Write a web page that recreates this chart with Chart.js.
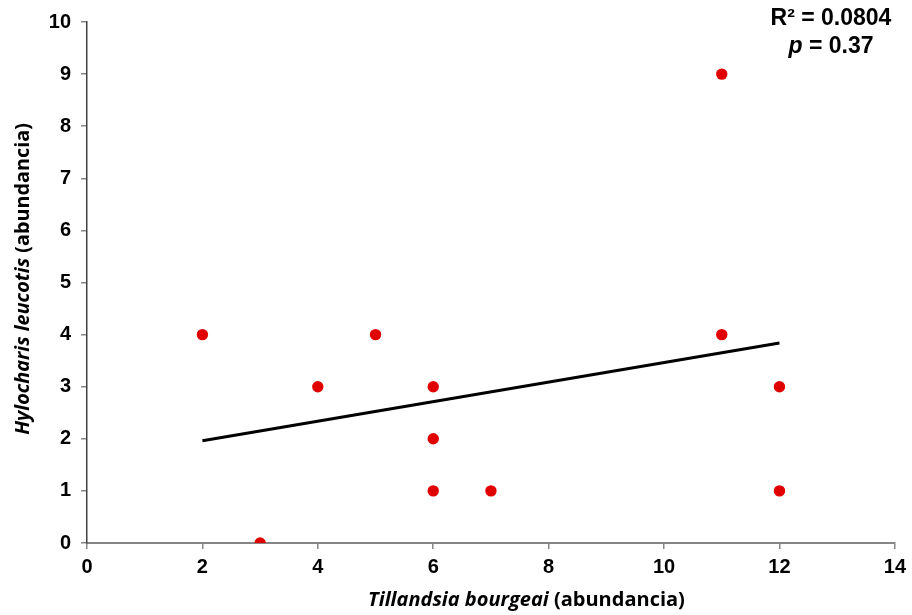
<!DOCTYPE html>
<html>
<head>
<meta charset="utf-8">
<script src="https://cdn.jsdelivr.net/npm/chart.js@4/dist/chart.umd.min.js"></script>
<style>
  html, body { margin: 0; padding: 0; background: #fff; }
  #wrap { width: 912px; height: 615px; position: relative; }
</style>
</head>
<body>
<div id="wrap"><canvas id="c" width="912" height="615"></canvas></div>
<script>
// Abundance counts per site
const tillandsia = [2, 3, 4, 5, 6, 6, 6, 7, 11, 11, 12, 12];
const hylocharis = [4, 0, 3, 4, 3, 2, 1, 1, 9, 4, 3, 1];

const xTickValues = [0, 2, 4, 6, 8, 10, 12, 14];
const yTickValues = [0, 1, 2, 3, 4, 5, 6, 7, 8, 9, 10];

const statLines = [
  [{ t: 'R² = 0.0804', italic: false }],
  [{ t: 'p', italic: true }, { t: ' = 0.37', italic: false }]
];

// Least-squares line through the observations
const n = tillandsia.length;
const mx = tillandsia.reduce((a, b) => a + b, 0) / n;
const my = hylocharis.reduce((a, b) => a + b, 0) / n;
let sxy = 0, sxx = 0;
for (let i = 0; i < n; i++) {
  sxy += (tillandsia[i] - mx) * (hylocharis[i] - my);
  sxx += (tillandsia[i] - mx) ** 2;
}
const slope = sxy / sxx;
const intercept = my - slope * mx;
const xMin = Math.min(...tillandsia), xMax = Math.max(...tillandsia);
const trend = [
  { x: xMin, y: intercept + slope * xMin },
  { x: xMax, y: intercept + slope * xMax }
];

const points = tillandsia.map((x, i) => ({ x, y: hylocharis[i] }));

const ARIAL = 'Liberation Sans, Arial, sans-serif';
const TICK_FONT = { family: ARIAL, size: 20, weight: 'bold' };
const TITLE_FAMILY = '"Open Sans", sans-serif';

function runsWidth(ctx, runs, size, family) {
  let total = 0;
  runs.forEach(r => {
    ctx.font = `${r.italic ? 'italic ' : ''}bold ${size}px ${family}`;
    total += ctx.measureText(r.t).width;
  });
  return total;
}

function drawRuns(ctx, runs, cx, cy, size, family) {
  const total = runsWidth(ctx, runs, size, family);
  let x = cx - total / 2;
  runs.forEach(r => {
    ctx.font = `${r.italic ? 'italic ' : ''}bold ${size}px ${family}`;
    ctx.fillText(r.t, x, cy);
    x += ctx.measureText(r.t).width;
  });
}

// pick a font size so the title spans the wanted width
function fitSize(ctx, runs, family, width) {
  const w = runsWidth(ctx, runs, 20, family);
  return 20 * width / w;
}

const xTitle = [
  { t: 'Tillandsia bourgeai', italic: true },
  { t: ' (abundancia)', italic: false }
];
const yTitle = [
  { t: 'Hylocharis leucotis', italic: true },
  { t: ' (abundancia)', italic: false }
];

const textPlugin = {
  id: 'textPlugin',
  afterDraw(chart) {
    const { ctx } = chart;
    ctx.save();
    ctx.fillStyle = '#000';
    ctx.textAlign = 'left';
    ctx.textBaseline = 'middle';
    const xs = fitSize(ctx, xTitle, TITLE_FAMILY, 317);
    drawRuns(ctx, xTitle, 526.5, 600, xs, TITLE_FAMILY);
    ctx.translate(23, 279);
    ctx.rotate(-Math.PI / 2);
    const ys = fitSize(ctx, yTitle, TITLE_FAMILY, 312);
    drawRuns(ctx, yTitle, 0, 0, ys, TITLE_FAMILY);
    ctx.restore();

    // statistics box
    ctx.save();
    ctx.fillStyle = '#000';
    ctx.textAlign = 'left';
    ctx.textBaseline = 'middle';
    drawRuns(ctx, statLines[0], 831, 19, 23, ARIAL);
    drawRuns(ctx, statLines[1], 831, 47, 23, ARIAL);
    ctx.restore();
  }
};

new Chart(document.getElementById('c'), {
  type: 'scatter',
  data: {
    datasets: [
      {
        label: 'Observaciones',
        data: points,
        pointRadius: 5.7,
        pointHoverRadius: 5.7,
        pointBackgroundColor: '#e00000',
        pointBorderColor: '#e00000',
        pointBorderWidth: 0,
        order: 1
      },
      {
        label: 'Tendencia',
        type: 'line',
        data: trend,
        borderColor: '#000',
        borderWidth: 3,
        pointRadius: 0,
        fill: false,
        order: 2
      }
    ]
  },
  options: {
    responsive: false,
    animation: false,
    events: [],
    layout: { padding: { top: 19, right: 15, left: 0, bottom: 0 } },
    plugins: { legend: { display: false }, tooltip: { enabled: false } },
    scales: {
      x: {
        type: 'linear',
        min: 0, max: 14,
        afterBuildTicks(s) { s.ticks = xTickValues.map(v => ({ value: v })); },
        afterFit(s) { s.height = 72; },
        ticks: { font: TICK_FONT, color: '#000', padding: 6 },
        grid: { drawOnChartArea: false, drawTicks: true, tickLength: 6, color: '#868686', lineWidth: 1.5 },
        border: { display: true, color: '#868686', width: 2 }
      },
      y: {
        type: 'linear',
        min: 0, max: 10,
        afterBuildTicks(s) { s.ticks = yTickValues.map(v => ({ value: v })); },
        afterFit(s) { s.width = 87; },
        ticks: { font: TICK_FONT, color: '#000', padding: 10 },
        grid: { drawOnChartArea: false, drawTicks: true, tickLength: 6, color: '#868686', lineWidth: 1.5 },
        border: { display: true, color: '#404040', width: 1.5 }
      }
    }
  },
  plugins: [textPlugin]
});
</script>
</body>
</html>
